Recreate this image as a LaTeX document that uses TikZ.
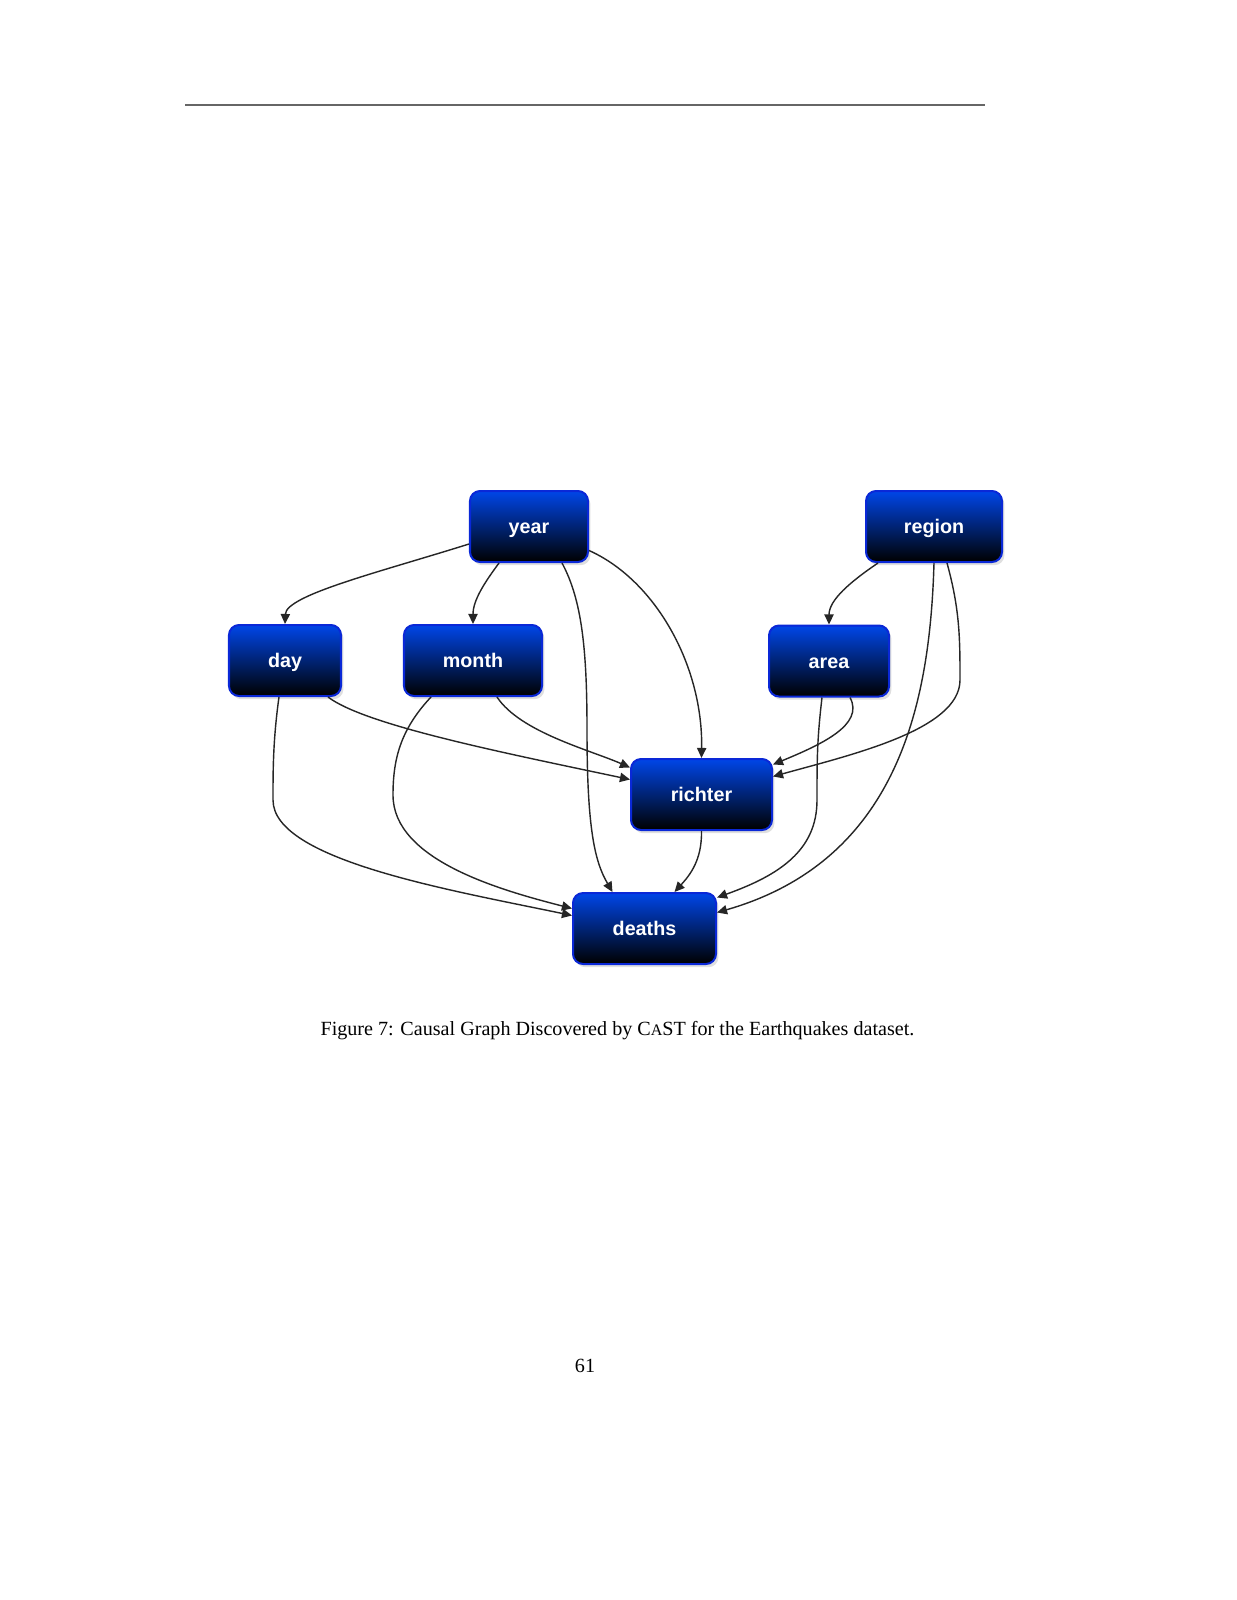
\documentclass[tikz,border=0pt]{standalone}
\usepackage{fontspec}
\setmainfont{Liberation Serif}
\setsansfont{Liberation Sans}
\usetikzlibrary{arrows.meta,calc,shadows}

\newcommand\pxu{0.497pt}
\definecolor{boxtop}{RGB}{0,70,232}
\definecolor{boxline}{RGB}{10,40,215}

\begin{document}
\begin{tikzpicture}[
    x=0.497pt, y=-0.497pt,
    var/.style={rectangle, rounded corners=5pt, draw=boxline, line width=1pt,
                top color=boxtop, bottom color=black,
                minimum height={71*\pxu}, text=white,
                text height=9pt, text depth=1.6pt,
                font=\sffamily\bfseries\fontsize{9.8}{11}\selectfont,
                drop shadow={opacity=0.25, shadow xshift=1.2pt, shadow yshift=-1.6pt}},
    arr/.style={-{Triangle[length=5pt,width=4.6pt]}, line width=0.7pt, black!85}
]
    \fill[white] (0,0) rectangle (1236,1600);
    \useasboundingbox (0,0) rectangle (1236,1600);

    % header rule
    \coordinate (ruleL) at (185,105);
    \coordinate (ruleR) at (985,105);
    \draw[black!60, line width=0.5pt] (ruleL) -- (ruleR);

    % variables
    \node[var, minimum width={118*\pxu}] (year) at (529,526.5) {year};
    \node[var, minimum width={136*\pxu}] (region) at (934,526.5) {region};
    \node[var, minimum width={112*\pxu}] (day) at (285,660.5) {day};
    \node[var, minimum width={138*\pxu}] (month) at (473,660.5) {month};
    \node[var, minimum width={120*\pxu}] (area) at (829,661) {area};
    \node[var, minimum width={141*\pxu}] (richter) at (701.5,794.5) {richter};
    \node[var, minimum width={143*\pxu}] (deaths) at (644.5,928.5) {deaths};

    % edges out of year
    \draw[arr] ($(year.west)+(0,17.5)$) .. controls (380,572) and (286,595) .. (day.north);
    \draw[arr] ($(year.south)+(-30,0)$) .. controls (485,582) and (473,600) .. (month.north);
    \draw[arr] ($(year.south)+(33,0)$) .. controls (582,600) and (587,650) .. (587,730)
        .. controls (587,830) and (595,862) .. ($(deaths.north)+(-32,0)$);
    \draw[arr] ($(year.east)+(0,24)$) .. controls (655,580) and (703,665) .. (richter.north);

    % edges out of region
    \draw[arr] ($(region.south)+(-56,0)$) .. controls (850,582) and (829,600) .. (area.north);
    \draw[arr] (region.south) .. controls (930,700) and (900,860) .. ($(deaths.east)+(0,-16)$);
    \draw[arr] ($(region.south)+(13,0)$) .. controls (960,610) and (960,640) .. (960,680)
        .. controls (960,730) and (850,755) .. ($(richter.east)+(0,-18)$);

    % edges out of day and month
    \draw[arr] ($(day.south)+(43,0)$) .. controls (365,725) and (500,752) .. ($(richter.west)+(0,-15)$);
    \draw[arr] ($(month.south)+(24,0)$) .. controls (520,732) and (590,750) .. ($(richter.west)+(0,-27)$);
    \draw[arr] ($(day.south)+(-6,0)$) .. controls (273,740) and (273,770) .. (273,800)
        .. controls (273,860) and (450,890) .. ($(deaths.west)+(0,-13)$);
    \draw[arr] ($(month.south)+(-42,0)$) .. controls (400,730) and (393,760) .. (393,795)
        .. controls (393,860) and (500,890) .. ($(deaths.west)+(0,-20)$);

    % edges out of area and richter
    \draw[arr] ($(area.south)+(21,0)$) .. controls (865,725) and (820,745) .. ($(richter.east)+(0,-30)$);
    \draw[arr] ($(area.south)+(-7,0)$) .. controls (817,740) and (817,760) .. (817,800)
        .. controls (817,850) and (780,875) .. ($(deaths.east)+(0,-31)$);
    \draw[arr] (richter.south) .. controls (702,860) and (690,875) .. ($(deaths.north)+(30,0)$);

    % caption and page number
    \node[font=\fontsize{10}{12}\selectfont] (caption) at (617.5,1031)
        {Figure 7: Causal Graph Discovered by C{\fontsize{8}{10}\selectfont A}ST for the Earthquakes dataset.};
    \node[font=\fontsize{10}{12}\selectfont] (pagenum) at (585,1366) {61};
\end{tikzpicture}
\end{document}
